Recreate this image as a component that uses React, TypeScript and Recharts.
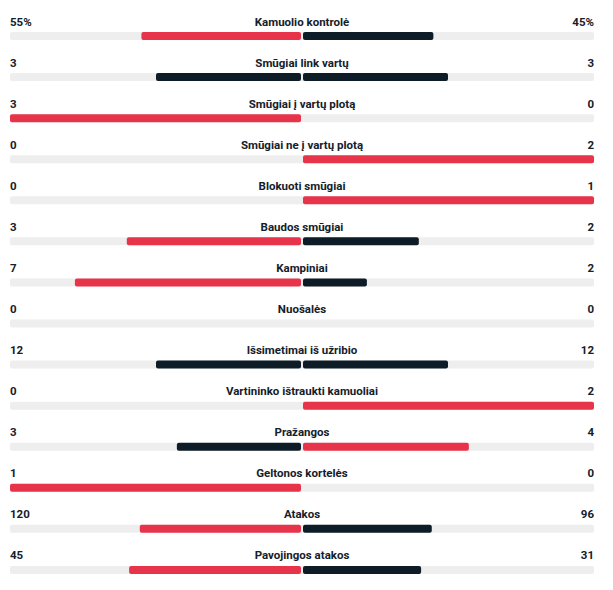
import { Bar, BarChart, XAxis, YAxis } from "recharts";

const labels = [
  "Kamuolio kontrolė",
  "Smūgiai link vartų",
  "Smūgiai į vartų plotą",
  "Smūgiai ne į vartų plotą",
  "Blokuoti smūgiai",
  "Baudos smūgiai",
  "Kampiniai",
  "Nuošalės",
  "Išsimetimai iš užribio",
  "Vartininko ištraukti kamuoliai",
  "Pražangos",
  "Geltonos kortelės",
  "Atakos",
  "Pavojingos atakos",
];
const homeValues = [55, 3, 3, 0, 0, 3, 7, 0, 12, 0, 3, 1, 120, 45];
const awayValues = [45, 3, 0, 2, 1, 2, 2, 0, 12, 2, 4, 0, 96, 31];
const percentLabels = ["Kamuolio kontrolė"];

const W = 613;
const H = 590;
const LEFT = 10;
const RIGHT = 594;
const CENTER = (LEFT + RIGHT) / 2;
const RED = "#e8344b";
const DARK = "#0d1c26";
const TEXT = "#14202a";

const rows = labels.map((label, i) => {
  const h = homeValues[i];
  const a = awayValues[i];
  const total = h + a;
  const hs = total ? h / total : 0;
  const as = total ? a / total : 0;
  return {
    label,
    homeRed: h > a ? -hs : 0,
    homeDark: h > a ? 0 : -hs,
    awayRed: a > h ? as : 0,
    awayDark: a > h ? 0 : as,
  };
});

function fmt(label: string, v: number) {
  return percentLabels.includes(label) ? `${v}%` : String(v);
}

// three texts per row: home value, stat name, away value
function RowTick(props: any) {
  const { y, payload } = props;
  const i = payload.index;
  const label = labels[i];
  const ty = y - 10;
  const style = { fontFamily: "Roboto, sans-serif", fontSize: 11.5, fontWeight: 700 };
  return (
    <g>
      <text x={LEFT} y={ty} textAnchor="start" fill={TEXT} style={style}>
        {fmt(label, homeValues[i])}
      </text>
      <text x={CENTER} y={ty} textAnchor="middle" fill={TEXT} style={style}>
        {label}
      </text>
      <text x={RIGHT} y={ty} textAnchor="end" fill={TEXT} style={style}>
        {fmt(label, awayValues[i])}
      </text>
    </g>
  );
}

function sideShape(side: "left" | "right") {
  return (props: any) => {
    const { x, y, width, height, fill } = props;
    if (!width || !height) return <g />;
    let x0 = Math.min(x, x + width);
    let w = Math.abs(width) - 1;
    if (side === "right") x0 += 1;
    if (w <= 0) return <g />;
    return <rect x={x0} y={y} width={w} height={height} rx={2} ry={2} fill={fill} />;
  };
}

export default function App() {
  return (
    <div style={{ position: "absolute", left: 0, top: 0, width: W, height: H, background: "#fff" }}>
      <BarChart
        width={W}
        height={H}
        data={rows}
        layout="vertical"
        stackOffset="sign"
        barSize={8}
        margin={{ top: 15, right: W - RIGHT, bottom: 0, left: LEFT - 1 }}
      >
        <XAxis type="number" domain={[-1, 1]} hide />
        <YAxis
          type="category"
          dataKey="label"
          width={1}
          axisLine={false}
          tickLine={false}
          interval={0}
          tick={<RowTick />}
        />
        <Bar
          dataKey="homeRed"
          stackId="s"
          fill={RED}
          background={{ fill: "#eeeeee", radius: 2 } as any}
          shape={sideShape("left")}
          isAnimationActive={false}
        />
        <Bar dataKey="homeDark" stackId="s" fill={DARK} shape={sideShape("left")} isAnimationActive={false} />
        <Bar dataKey="awayRed" stackId="s" fill={RED} shape={sideShape("right")} isAnimationActive={false} />
        <Bar dataKey="awayDark" stackId="s" fill={DARK} shape={sideShape("right")} isAnimationActive={false} />
      </BarChart>
    </div>
  );
}
